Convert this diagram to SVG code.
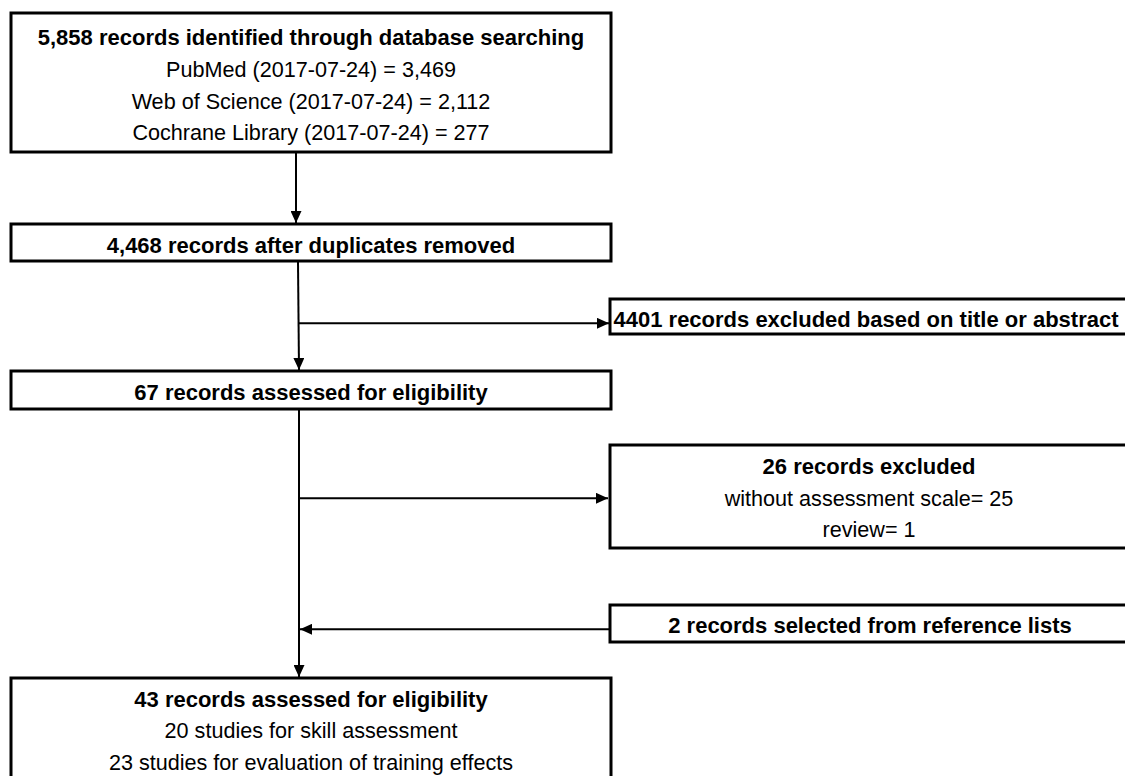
<svg xmlns="http://www.w3.org/2000/svg" width="1125" height="776" viewBox="0 0 1125 776">
<style>
.box{fill:#fff;stroke:#000;stroke-width:3}
.b{font-family:"Liberation Sans",Arial,sans-serif;font-weight:bold;font-size:22px;fill:#000;text-anchor:middle}
.r{font-family:"Liberation Sans",Arial,sans-serif;font-size:21.6px;fill:#000;text-anchor:middle}
.c{fill:none;stroke:#000;stroke-width:2}
</style>
<defs>
<marker id="ah" markerUnits="userSpaceOnUse" markerWidth="12" markerHeight="11" refX="12" refY="5.5" orient="auto">
<path d="M0,0 L12,5.5 L0,11 z" fill="#000"/>
</marker>
</defs>
<rect width="1125" height="776" fill="#fff"/>
<g id="connectors">
<path class="c" d="M296,153 V223" marker-end="url(#ah)"/>
<path class="c" d="M298,262 L299,370" marker-end="url(#ah)"/>
<path class="c" d="M298,323.3 H609" marker-end="url(#ah)"/>
<path class="c" d="M299,409 V677" marker-end="url(#ah)"/>
<path class="c" d="M299,498.3 H608" marker-end="url(#ah)"/>
<path class="c" d="M610,629.3 H300" marker-end="url(#ah)"/>
</g>
<g id="identified">
<rect class="box" x="11" y="13" width="600" height="139"/>
<text class="b" x="311" y="45">5,858 records identified through database searching</text>
<text class="r" x="311" y="76.8">PubMed (2017-07-24) = 3,469</text>
<text class="r" x="311" y="108.6">Web of Science (2017-07-24) = 2,112</text>
<text class="r" x="311" y="140.4">Cochrane Library (2017-07-24) = 277</text>
</g>
<g id="duplicates">
<rect class="box" x="11" y="224" width="600" height="37"/>
<text class="b" x="311" y="252.7">4,468 records after duplicates removed</text>
</g>
<g id="excluded-title">
<rect class="box" x="610" y="299" width="517" height="35"/>
<text class="b" x="866" y="326.7">4401 records excluded based on title or abstract</text>
</g>
<g id="eligibility">
<rect class="box" x="11" y="371" width="600" height="38"/>
<text class="b" x="311" y="400">67 records assessed for eligibility</text>
</g>
<g id="excluded-26">
<rect class="box" x="610" y="445" width="517" height="103"/>
<text class="b" x="869" y="474">26 records excluded</text>
<text class="r" x="869" y="505.5">without assessment scale= 25</text>
<text class="r" x="869" y="537">review= 1</text>
</g>
<g id="reference-lists">
<rect class="box" x="610" y="605" width="517" height="37"/>
<text class="b" x="870" y="633.3">2 records selected from reference lists</text>
</g>
<g id="included">
<rect class="box" x="11" y="678" width="600" height="130"/>
<text class="b" x="311" y="706.7">43 records assessed for eligibility</text>
<text class="r" x="311" y="738.4">20 studies for skill assessment</text>
<text class="r" x="311" y="770">23 studies for evaluation of training effects</text>
</g>
</svg>
